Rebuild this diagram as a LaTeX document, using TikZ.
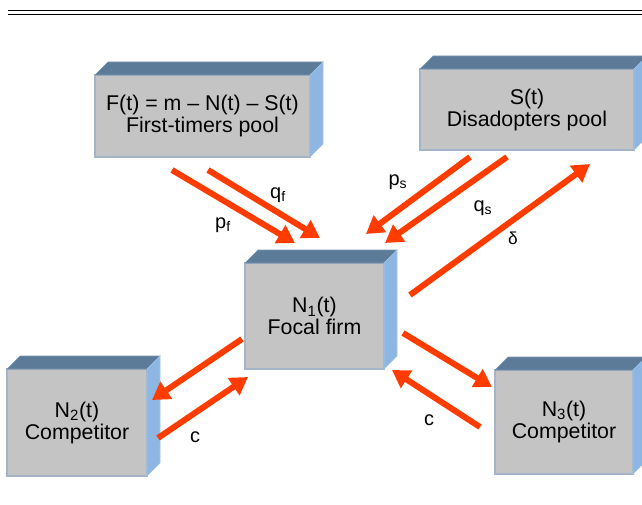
\documentclass[tikz,border=0pt]{standalone}
\usepackage{fontspec}
\setmainfont{Liberation Sans}
\usepackage{xcolor}
\usepackage{tikz}
\usetikzlibrary{positioning, calc, arrows.meta}

\definecolor{FlowRed}{RGB}{255,60,0}
\definecolor{BoxGray}{RGB}{196,196,196}
\definecolor{TopBlue}{RGB}{91,123,153}
\definecolor{SideBlue}{RGB}{141,182,226}
\definecolor{BoxEdge}{RGB}{165,180,200}

\begin{document}
\begin{tikzpicture}[x=0.75pt, y=0.75pt,
		PoolBox/.style={rectangle, draw=BoxEdge, fill=BoxGray, line width=0.8pt, outer sep=0pt, inner sep=0pt, align=center, font=\fontsize{16}{16.5}\selectfont},
		TopFace/.style={fill=TopBlue, draw=TopBlue!80!white, line width=0.4pt},
		SideFace/.style={fill=SideBlue, draw=SideBlue!80!white, line width=0.4pt},
		Flow/.style={draw=FlowRed, line width=4.5pt, -{Triangle[length=13pt, width=15pt]}},
		RateLabel/.style={font=\fontsize{15}{15}\selectfont}]

	\useasboundingbox (0,0) rectangle (642,504);

	% Rule at the top
	\draw[line width=1.3pt] (8,493.5) -- (642,493.5);
	\draw[line width=1.1pt] (8,489.5) -- (642,489.5);

	% Nodes
	\node[PoolBox, minimum width=161.25pt, minimum height=61.5pt] (F) at (202.5,388) {F(t) = m -- N(t) -- S(t)\\First-timers pool};
	\node[PoolBox, minimum width=160.5pt, minimum height=60.75pt] (S) at (527,394.5) {S(t)\\Disadopters pool};
	\node[PoolBox, minimum width=104.25pt, minimum height=79.5pt] (N1) at (314.5,188) {N\textsubscript{1}(t)\\Focal firm};
	\node[PoolBox, minimum width=105pt, minimum height=80.25pt] (N2) at (77,81.5) {N\textsubscript{2}(t)\\Competitor};
	\node[PoolBox, minimum width=103.5pt, minimum height=78pt] (N3) at (564,82) {N\textsubscript{3}(t)\\Competitor};

	% Box faces
	\foreach \b in {F, S, N1, N2, N3} {
		\filldraw[TopFace] (\b.north west) -- ++(13,13) -- ($(\b.north east)+(13,13)$) -- (\b.north east) -- cycle;
		\filldraw[SideFace] (\b.north east) -- ++(13,13) -- ($(\b.south east)+(13,13)$) -- (\b.south east) -- cycle;
	}

	% Lines
	\draw[Flow] ([shift={(-30.5,-13)}]F.south) -- ([shift={(-19.5,20)}]N1.north);
	\draw[Flow] ([shift={(5.5,-13)}]F.south) -- ([shift={(5.5,25)}]N1.north);
	\draw[Flow] ([shift={(-57,-7)}]S.south) -- ([shift={(51.5,29)}]N1.north);
	\draw[Flow] ([shift={(-20,-7)}]S.south) -- ([shift={(70.5,20)}]N1.north);
	\draw[Flow] ([shift={(26,21)}]N1.east) -- ([shift={(63,-14)}]S.south);
	\draw[Flow] ([shift={(-3,-23)}]N1.west) -- ([shift={(5,22.5)}]N2.east);
	\draw[Flow] ([shift={(11,-15.5)}]N2.east) -- ([shift={(3,-8)}]N1.south west);
	\draw[Flow] ([shift={(19,-17)}]N1.east) -- ([shift={(-3,35)}]N3.west);
	\draw[Flow] ([shift={(-15,-5)}]N3.west) -- ([shift={(8,-1)}]N1.south east);

	% Labels
	\node[RateLabel] (pf) at (223,279) {p\textsubscript{f}};
	\node[RateLabel] (qf) at (278,309) {q\textsubscript{f}};
	\node[RateLabel] (ps) at (398,322) {p\textsubscript{s}};
	\node[RateLabel] (qs) at (483,296) {q\textsubscript{s}};
	\node[font=\fontsize{13}{13}\selectfont] (delta) at (513,266) {δ};
	\node[RateLabel] (c2) at (195,67) {c};
	\node[RateLabel] (c3) at (429,84) {c};
\end{tikzpicture}
\end{document}
